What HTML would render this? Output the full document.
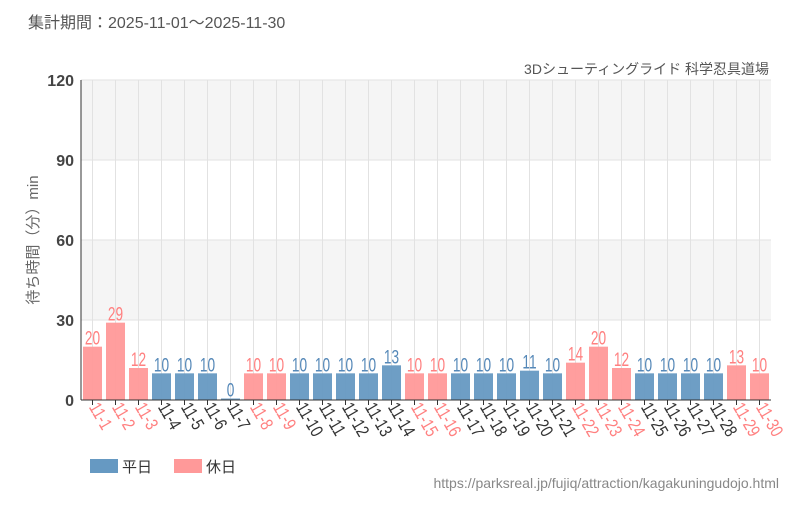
<!DOCTYPE html>
<html><head><meta charset="utf-8"><style>
body{margin:0;background:#fff;}
svg text{font-family:"Liberation Sans","Noto Sans CJK JP",sans-serif;}
</style></head><body>
<svg width="800" height="500" xmlns="http://www.w3.org/2000/svg">
<text x="28" y="28" font-size="16" fill="#555">集計期間：2025-11-01～2025-11-30</text>
<text x="769" y="74" font-size="14" fill="#555" text-anchor="end">3Dシューティングライド 科学忍具道場</text>
<rect x="81" y="80" width="690" height="80" fill="#f5f5f5"/>
<rect x="81" y="240" width="690" height="80" fill="#f5f5f5"/>
<g id="g"></g>
<line x1="81" y1="80" x2="81" y2="400" stroke="#333" stroke-width="1"/>
<line x1="81" y1="400" x2="771" y2="400" stroke="#333" stroke-width="1"/>
<g font-size="16" fill="#444" text-anchor="end" font-weight="bold">
<text x="74" y="86">120</text><text x="74" y="166">90</text><text x="74" y="246">60</text><text x="74" y="326">30</text><text x="74" y="406">0</text>
</g>
<text transform="translate(38,240) rotate(-90)" font-size="15" fill="#666" text-anchor="middle">待ち時間（分）min</text>
<rect x="90" y="459" width="28" height="14" fill="#6699c2"/>
<text x="122" y="472" font-size="15" fill="#333">平日</text>
<rect x="174" y="459" width="28" height="14" fill="#ff9999"/>
<text x="206" y="472" font-size="15" fill="#333">休日</text>
<text x="779" y="488" font-size="14" fill="#888" text-anchor="end">https://parksreal.jp/fujiq/attraction/kagakuningudojo.html</text>
</svg>
<script>
var v=[20,29,12,10,10,10,0,10,10,10,10,10,10,13,10,10,10,10,10,11,10,14,20,12,10,10,10,10,13,10];
var h=[1,1,1,0,0,0,0,1,1,0,0,0,0,0,1,1,0,0,0,0,0,1,1,1,0,0,0,0,1,1];
var s='';
for(var i=0;i<30;i++){var c=81+11.5+23*i;s+='<line x1="'+c+'" y1="80" x2="'+c+'" y2="400" stroke="#e2e2e2"/>';}
s+='<line x1="81" y1="80" x2="771" y2="80" stroke="#e2e2e2"/><line x1="81" y1="160" x2="771" y2="160" stroke="#e2e2e2"/><line x1="81" y1="240" x2="771" y2="240" stroke="#e2e2e2"/><line x1="81" y1="320" x2="771" y2="320" stroke="#e2e2e2"/>';
for(var i=0;i<30;i++){var c=81+11.5+23*i,col=h[i]?'#ff9999':'#6699c2',tc=h[i]?'#ff8080':'#5588b8';
var bh=Math.max(v[i]*320/120,1.5),y=400-bh;
s+='<rect x="'+(c-9.5)+'" y="'+y+'" width="19" height="'+bh+'" fill="'+col+'" fill-opacity="0.95"/>';
s+='<text transform="translate('+c+','+(y-2)+') scale(0.72,1)" font-size="19" fill="'+tc+'" text-anchor="middle">'+v[i]+'</text>';
s+='<line x1="'+c+'" y1="400" x2="'+c+'" y2="405" stroke="#333"/>';
s+='<text transform="translate('+(c-4)+',407) rotate(60) scale(0.8,1)" font-size="18" fill="'+(h[i]?'#ff8080':'#333')+'">11-'+(i+1)+'</text>';}
document.getElementById('g').innerHTML=s;
</script>
</body></html>
